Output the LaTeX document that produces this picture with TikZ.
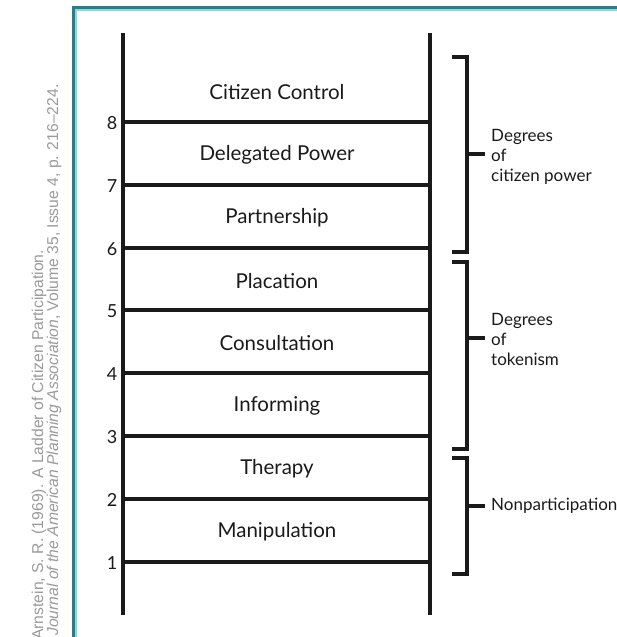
\documentclass[tikz,border=0pt]{standalone}
\usepackage{fontspec}
\setmainfont{Lato}
\newfontfamily\citefont{Liberation Sans}
\usepackage{tikz}

\definecolor{frameteal}{HTML}{2A7E8A}
\definecolor{framelight}{HTML}{A4CDD3}
\definecolor{citegray}{HTML}{9A9A9A}
\definecolor{ink}{HTML}{1A1A1A}

\begin{document}
\begin{tikzpicture}[x=1pt, y=-1pt,
  rail/.style={draw=ink, line width=4.5pt},
  rung/.style={draw=ink, line width=3.5pt},
  bracket/.style={draw=ink, line width=4pt},
  step label/.style={font=\fontsize{20.5}{24}\selectfont, text=ink},
  num label/.style={font=\fontsize{18}{20}\selectfont, text=ink},
  group label/.style={font=\fontsize{17}{20}\selectfont, text=ink, align=left, anchor=west, inner sep=6pt},
  cite line/.style={font=\citefont\fontsize{15.7}{18}\selectfont, text=citegray, rotate=90, anchor=base west, inner sep=0pt}]
\useasboundingbox (0,0) rectangle (616,637);

% frame
\draw[framelight, line width=1.2pt] (76,700) -- (76,10) -- (700,10);
\draw[frameteal, line width=3pt] (73,700) -- (73,7) -- (700,7);

% citation
\node[cite line] (cite1) at (43,640) {Arnstein, S. R. (1969). A Ladder of Citizen Participation.};
\node[cite line] (cite2) at (58,636) {\itshape Journal of the American Planning Association\upshape, Volume 35, Issue 4, p. 216–224.};

% rails
\coordinate (railLT) at (123,33);
\coordinate (railLB) at (123,615);
\coordinate (railRT) at (430,33);
\coordinate (railRB) at (430,615);
\draw[rail] (railLT) -- (railLB);
\draw[rail] (railRT) -- (railRB);

% rungs
\coordinate (r1L) at (123,562); \coordinate (r1R) at (430,562);
\coordinate (r2L) at (123,499); \coordinate (r2R) at (430,499);
\coordinate (r3L) at (123,436); \coordinate (r3R) at (430,436);
\coordinate (r4L) at (123,373); \coordinate (r4R) at (430,373);
\coordinate (r5L) at (123,310); \coordinate (r5R) at (430,310);
\coordinate (r6L) at (123,248); \coordinate (r6R) at (430,248);
\coordinate (r7L) at (123,185); \coordinate (r7R) at (430,185);
\coordinate (r8L) at (123,122); \coordinate (r8R) at (430,122);
\draw[rung] (r1L) -- (r1R);
\draw[rung] (r2L) -- (r2R);
\draw[rung] (r3L) -- (r3R);
\draw[rung] (r4L) -- (r4R);
\draw[rung] (r5L) -- (r5R);
\draw[rung] (r6L) -- (r6R);
\draw[rung] (r7L) -- (r7R);
\draw[rung] (r8L) -- (r8R);

% rung numbers
\node[num label] (n1) at (112,563) {1};
\node[num label] (n2) at (112,500) {2};
\node[num label] (n3) at (112,437) {3};
\node[num label] (n4) at (112,374) {4};
\node[num label] (n5) at (112,311) {5};
\node[num label] (n6) at (112,249) {6};
\node[num label] (n7) at (112,186) {7};
\node[num label] (n8) at (112,123) {8};

% steps
\node[step label] (control) at (277,92) {Citizen Control};
\node[step label] (delegated) at (277,155) {Delegated Power};
\node[step label] (partner) at (277,218) {Partnership};
\node[step label] (placation) at (277,281) {Placation};
\node[step label] (consult) at (277,343) {Consultation};
\node[step label] (inform) at (277,406) {Informing};
\node[step label] (therapy) at (277,469) {Therapy};
\node[step label] (manip) at (277,532) {Manipulation};

% groups
\coordinate (powTop) at (467,57);
\coordinate (powBot) at (467,252);
\coordinate (powMid) at (467,154);
\node[group label] (powLbl) at (485,157) {Degrees\\of\\citizen power};
\draw[bracket] ([xshift=-15pt]powTop) -- (powTop) -- (powBot) -- ([xshift=-15pt]powBot);
\draw[bracket] (powMid) -- (powLbl.west |- powMid);

\coordinate (tokTop) at (467,262);
\coordinate (tokBot) at (467,449);
\coordinate (tokMid) at (467,338);
\node[group label] (tokLbl) at (485,339) {Degrees\\of\\tokenism};
\draw[bracket] ([xshift=-15pt]tokTop) -- (tokTop) -- (tokBot) -- ([xshift=-15pt]tokBot);
\draw[bracket] (tokMid) -- (tokLbl.west |- tokMid);

\coordinate (nonTop) at (467,458);
\coordinate (nonBot) at (467,574);
\coordinate (nonMid) at (467,506);
\node[group label] (nonLbl) at (485,506) {Nonparticipation};
\draw[bracket] ([xshift=-15pt]nonTop) -- (nonTop) -- (nonBot) -- ([xshift=-15pt]nonBot);
\draw[bracket] (nonMid) -- (nonLbl.west |- nonMid);
\end{tikzpicture}
\end{document}
